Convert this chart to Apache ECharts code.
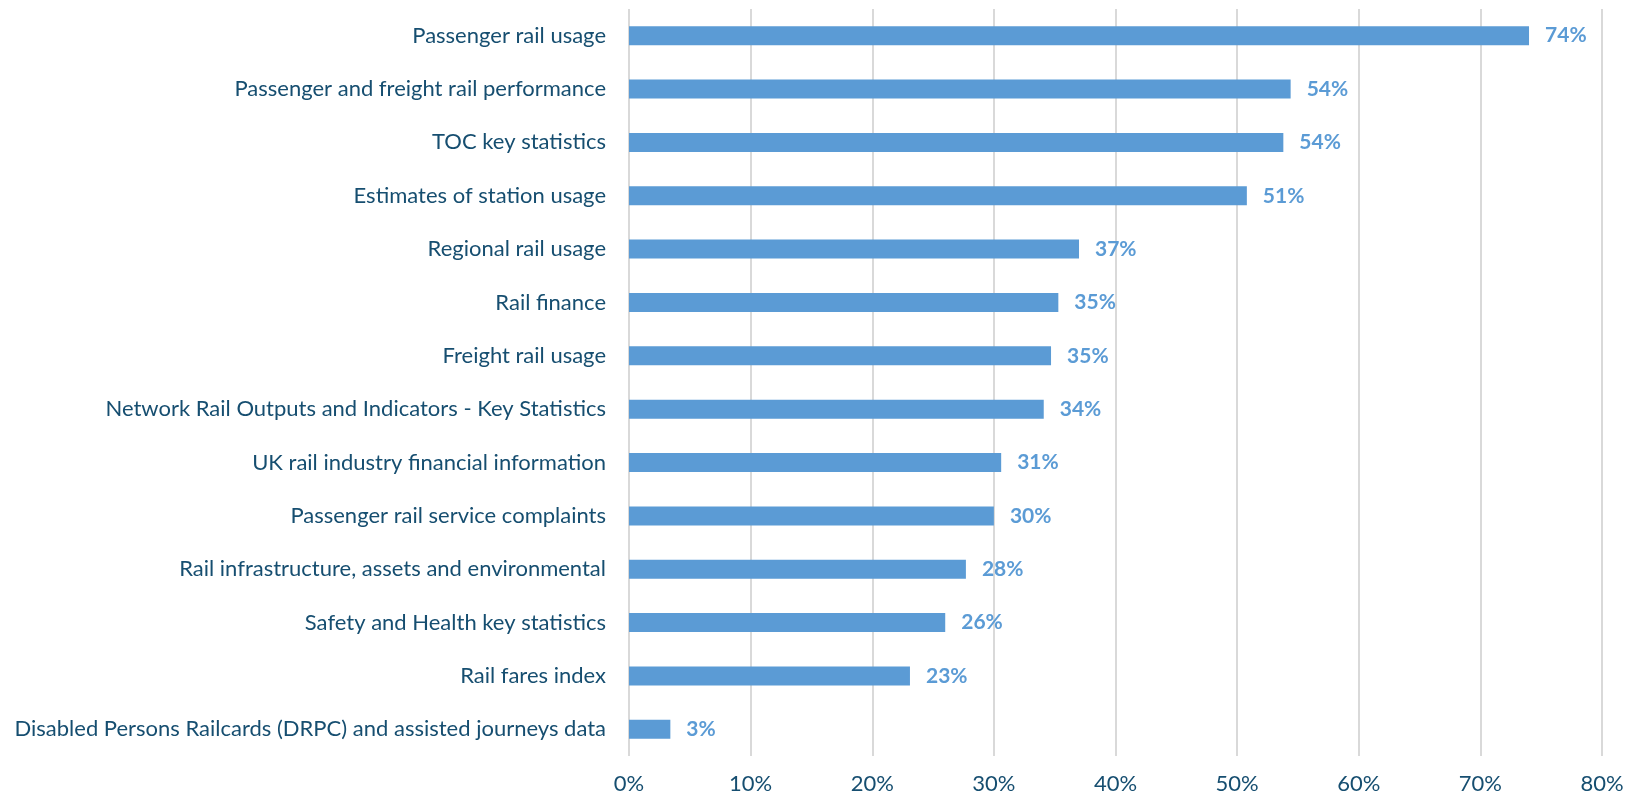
<!DOCTYPE html>
<html>
<head>
<meta charset="utf-8">
<script src="https://cdn.jsdelivr.net/npm/echarts@6/dist/echarts.min.js"></script>
<style>
html,body{margin:0;padding:0;background:#fff;}
#chart{width:1636px;height:798px;}
</style>
</head>
<body>
<div id="chart"></div>
<script>
const categories = [
  "Passenger rail usage",
  "Passenger and freight rail performance",
  "TOC key statistics",
  "Estimates of station usage",
  "Regional rail usage",
  "Rail finance",
  "Freight rail usage",
  "Network Rail Outputs and Indicators - Key Statistics",
  "UK rail industry financial information",
  "Passenger rail service complaints",
  "Rail infrastructure, assets and environmental",
  "Safety and Health key statistics",
  "Rail fares index",
  "Disabled Persons Railcards (DRPC) and assisted journeys data"
];
const values = [74.0, 54.4, 53.8, 50.8, 37.0, 35.3, 34.7, 34.1, 30.6, 30.0, 27.7, 26.0, 23.1, 3.4];
const xTicks = [0, 10, 20, 30, 40, 50, 60, 70, 80];

const chart = echarts.init(document.getElementById('chart'), null, {renderer: 'canvas'});
const textColor = '#164E70';
chart.setOption({
  animation: false,
  grid: {left: 629, right: 34, top: 9, bottom: 42, containLabel: false},
  xAxis: {
    type: 'value',
    min: xTicks[0],
    max: xTicks[xTicks.length - 1],
    interval: 10,
    axisLine: {show: false},
    axisTick: {show: false},
    splitLine: {show: true, lineStyle: {color: '#D9D9D9', width: 2}},
    axisLabel: {
      formatter: v => v + '%',
      color: textColor,
      fontFamily: 'Lato',
      fontSize: 22,
      margin: 17
    }
  },
  yAxis: {
    type: 'category',
    data: categories,
    inverse: true,
    axisLine: {show: false},
    axisTick: {show: false},
    axisLabel: {
      color: textColor,
      fontFamily: 'Lato',
      fontSize: 22,
      margin: 23
    }
  },
  series: [{
    type: 'bar',
    data: values,
    barWidth: 19,
    itemStyle: {color: '#5B9BD5'},
    label: {
      show: true,
      position: 'right',
      distance: 16,
      formatter: p => Math.round(p.value) + '%',
      color: '#5B9BD5',
      fontFamily: 'Lato',
      fontWeight: 'bold',
      fontSize: 21
    }
  }]
});
</script>
</body>
</html>
